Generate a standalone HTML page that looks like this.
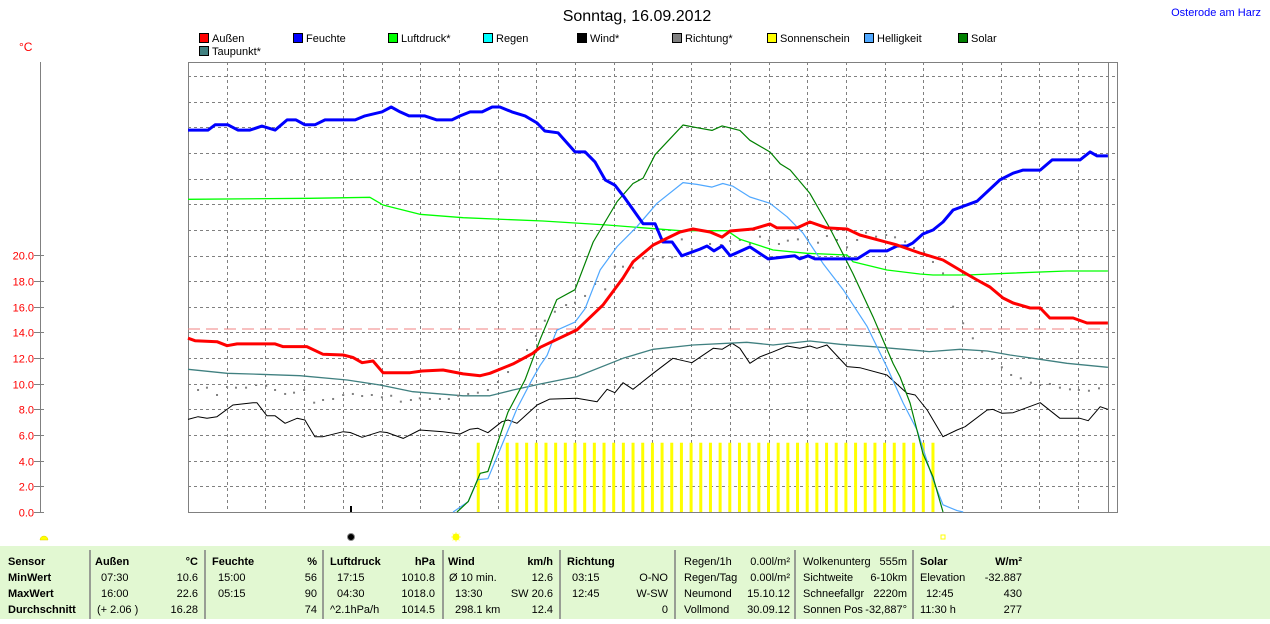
<!DOCTYPE html>
<html><head><meta charset="utf-8"><style>
body{margin:0;background:#fff;width:1270px;height:619px;overflow:hidden;font-family:"Liberation Sans",sans-serif}
svg text{font-family:"Liberation Sans",sans-serif}
</style></head><body>
<svg id="chart" width="1270" height="619" viewBox="0 0 1270 619" xmlns="http://www.w3.org/2000/svg">
<text x="637" y="21" font-size="16" text-anchor="middle" fill="#000">Sonntag, 16.09.2012</text>
<text x="1261" y="16" font-size="11" text-anchor="end" fill="#0000ff">Osterode am Harz</text>
<text x="19" y="51" font-size="12" fill="#ff0000">°C</text>
<rect x="0" y="546" width="1270" height="73" fill="#e2f8d2"/>
<g id="grid"></g>
<g id="series"></g>
<g id="legend"></g>
<g id="table" font-size="11"></g>
<g>
<path d="M40 540 A4 4 0 0 1 48 540 Z" fill="#ffff00" stroke="#e0d000" stroke-width="0.5"/>
<circle cx="351" cy="537" r="3.5" fill="#000" stroke="#888" stroke-width="1"/>
<g stroke="#ffff80" stroke-width="1"><line x1="451" y1="537" x2="461" y2="537"/><line x1="456" y1="532" x2="456" y2="542"/><line x1="452.5" y1="533.5" x2="459.5" y2="540.5"/><line x1="459.5" y1="533.5" x2="452.5" y2="540.5"/><circle cx="456" cy="537" r="3" fill="#ffff00" stroke="#ffff00"/></g>
<rect x="941" y="535" width="4" height="4" fill="none" stroke="#ffff00" stroke-width="1"/>
</g>
</svg>
<script>
// ---- data ----
const yTicks=[0,2,4,6,8,10,12,14,16,18,20];
const tempHours=[0,0.18,0.75,1.01,1.27,2.25,2.45,3.07,3.49,4.01,4.26,4.5,4.78,5.04,5.74,6.05,6.59,7.11,7.55,7.8,8.4,8.91,9.1,10.05,10.72,11.24,11.5,12.02,12.71,13.05,13.49,13.8,14.01,14.6,15.04,15.22,15.74,16.07,16.51,17.03,17.36,18.32,18.91,19.51,20.03,20.39,20.72,21.06,21.32,21.76,22.02,22.27,22.87,23.23,23.77];
const tempValues=[13.55,13.35,13.27,12.96,13.1,13.1,12.89,12.89,12.29,12.24,12.05,11.64,11.77,10.86,10.86,10.99,11.07,10.76,10.62,10.81,11.54,12.37,12.84,14.19,16.13,18.24,19.49,20.81,21.82,22.06,21.82,21.43,21.9,22.06,22.45,22.14,22.14,22.6,22.14,22.06,21.59,20.81,20.19,19.64,18.71,18.08,17.54,16.68,16.29,15.9,15.9,15.12,15.12,14.73,14.73];
const tempRef=14.26;
const humHours=[0,0.52,0.7,1.03,1.29,1.6,1.91,2.25,2.56,2.79,3.02,3.28,3.54,4.32,4.57,5.01,5.25,5.48,5.71,6.12,6.43,6.82,7.03,7.29,7.6,7.86,8.06,8.37,8.71,9.02,9.22,9.56,10.0,10.26,10.52,10.78,11.03,11.29,11.76,12.07,12.27,12.51,12.76,13.23,13.41,13.59,13.8,14.01,14.52,14.99,15.68,15.81,16.02,16.2,17.29,17.62,18.06,18.32,18.58,18.73,18.99,19.25,19.51,19.77,20.39,20.98,21.32,21.58,22.02,22.33,23.05,23.31,23.49,23.77];
const humValues=[84.8,84.8,86,86,84.8,84.8,85.7,84.8,87.1,87.1,86,86,87.1,87.1,88,88.9,90,88.9,88,88,87.1,87.1,88,88.9,88.9,90,90,88.9,88,86.4,84.6,84.2,79.9,79.9,77.6,73.6,72.4,69.5,63.7,63.7,59.6,59.6,56.5,58,58.7,57.6,58.7,56.5,58.5,55.8,56.5,55.8,56.5,55.8,55.8,57.6,57.6,58.7,58.7,59.4,61.4,62.3,64.1,66.8,68.8,73.6,75.1,75.8,75.8,78.1,78.1,79.9,79,79];
const presHours=[0,3.15,4.7,5.04,5.99,7.11,9.17,10.83,12.71,13.93,14.26,15.12,15.99,17.03,17.18,18.06,18.91,19.25,20.13,21.16,22.71,23.77];
const presValues=[1017.77,1017.87,1017.97,1017.2,1016.27,1015.93,1015.6,1015.2,1014.63,1014.63,1013.77,1012.7,1012.37,1012.2,1011.53,1010.7,1010.3,1010.2,1010.2,1010.37,1010.6,1010.6];
const dewHours=[0,1.01,1.86,2.89,4.11,4.96,5.81,7.11,7.8,8.4,9.1,10.05,11.24,12.02,13.05,14.44,15.12,16.07,16.85,17.7,18.91,19.15,19.95,20.65,21.24,21.84,22.71,23.77];
const dewValues=[11.12,10.81,10.73,10.62,10.29,9.9,9.38,9.06,9.06,9.51,9.98,10.55,11.98,12.68,13.02,13.23,13.02,13.33,13.07,12.88,12.57,12.5,12.68,12.55,12.24,11.98,11.59,11.28];
const windHours=[0,0.26,0.49,0.75,1.16,1.68,1.78,2.04,2.25,2.51,2.82,3.02,3.28,3.49,4.01,4.19,4.5,4.96,5.14,5.56,5.99,6.59,7.03,7.29,7.49,7.75,8.11,8.27,8.5,9.02,9.35,10.05,10.57,10.83,11.03,11.24,11.5,12.02,12.53,13.02,13.57,13.8,14.06,14.26,14.52,14.78,15.12,15.48,15.81,16.07,16.25,16.51,17.03,17.36,18.06,18.58,18.79,19.1,19.51,19.87,20.08,20.65,20.8,21.03,21.32,22.02,22.53,23.05,23.26,23.57,23.77];
const windValues=[7.22,7.43,7.3,7.43,8.34,8.52,8.52,7.5,7.5,6.91,7.3,7.17,5.87,5.87,6.26,6.2,5.82,6.26,6.2,5.74,6.39,6.26,6.08,6.45,6.52,6.18,7.04,7.17,6.91,8.34,8.8,8.86,8.6,9.56,9.3,10.08,9.56,10.81,11.98,11.64,12.76,12.68,13.15,12.76,11.59,12.1,12.49,12.94,12.76,12.94,12.76,13.02,11.33,11.25,10.68,9.25,9.12,7.95,5.87,6.39,6.65,7.95,8.0,7.69,7.74,8.52,7.3,7.3,7.12,8.21,8.0];
const dirHours=[0.26,0.49,0.75,1.01,1.24,1.5,1.76,2.02,2.25,2.51,2.74,3.0,3.26,3.49,3.75,4.01,4.26,4.5,4.75,5.01,5.25,5.5,5.76,5.99,6.25,6.51,6.74,6.98,7.24,7.49,7.75,8.01,8.27,8.5,8.76,8.99,9.22,9.48,9.77,10.0,10.26,10.52,10.78,11.03,11.24,11.5,11.76,12.02,12.27,12.51,12.76,13.02,13.26,13.49,13.77,14.01,14.26,14.52,14.78,15.01,15.27,15.5,15.76,16.02,16.28,16.51,16.77,17.03,17.29,17.52,17.78,18.04,18.27,18.53,18.76,19.02,19.25,19.51,19.77,20.03,20.28,20.52,20.78,21.03,21.27,21.52,21.78,22.02,22.27,22.53,22.79,23.02,23.28,23.54];
const dirValues=[9.51,9.69,9.12,9.74,9.69,9.69,9.9,9.84,9.51,9.2,9.3,9.51,8.52,8.73,8.81,9.12,9.2,9.04,9.12,8.94,9.06,8.6,8.73,8.86,8.81,8.81,8.81,9.06,9.2,9.3,9.51,10.13,10.91,11.69,12.63,13.72,14.91,15.61,16.13,16.31,16.84,17.77,17.36,19.12,19.12,19.04,19.77,19.7,19.85,19.85,21.25,20.48,20.55,20.89,20.81,21.12,21.2,20.89,21.46,21.15,20.89,21.15,21.25,21.2,20.99,21.51,21.2,20.63,21.2,21.77,21.46,21.59,21.41,21.07,20.58,20.26,19.49,18.6,16.0,14.71,13.54,12.49,11.93,11.28,10.68,10.42,10.08,9.9,9.98,9.69,9.56,9.51,9.45,9.64];
const solarHours=[6.95,7.24,7.55,7.75,8.27,8.71,9.1,9.53,10.0,10.47,11.09,11.5,11.76,12.07,12.79,13.15,13.54,13.8,14.26,14.52,15.04,15.3,15.56,16.07,16.59,17.18,17.7,18.22,18.4,18.66,18.99,19.25,19.51];
const solarValues=[0,11.5,43,45,111,147,192,236,247,300,345,365,371,397,430,427,424,429,424,413,400,387,380,354,315,265,217,165,150,121,65,39,0];
const brightHours=[6.85,7.24,7.49,7.75,8.06,8.5,8.89,9.1,9.28,9.53,10.0,10.26,10.65,11.09,11.6,12.12,12.79,13.15,13.54,13.82,14.08,14.52,15.04,15.48,15.89,16.41,16.93,17.55,18.06,18.48,18.84,19.25,19.51,19.87,20.03];
const brightValues=[0,11.5,36,37,69,115,147,163,174,202,211,226,269,295,317,343,366,364,361,365,362,350,343,328,310,276,247,206,161,121,91,36,8,1.5,0];
const sunHours=[7.5,8.25,8.5,8.75,9,9.25,9.5,9.75,10,10.25,10.5,10.75,11,11.25,11.5,11.75,12,12.25,12.5,12.75,13,13.25,13.5,13.75,14,14.25,14.5,14.75,15,15.25,15.5,15.75,16,16.25,16.5,16.75,17,17.25,17.5,17.75,18,18.25,18.5,18.75,19,19.25];
const sunLevel=5.4;

// ---- scales ----
const X0=188,X1=1117,Y0=512,YT=62;
const xH=h=>X0+h*38.7;
const yT=v=>Y0-v*12.83;
const yHum=h=>258-(h-56)*4.44;
const yPres=p=>197+(1018-p)*10;
const ySol=s=>Y0-s*0.9;
const snap=v=>Math.round(v)+0.5;
const NS='http://www.w3.org/2000/svg';
function mk(tag,attrs,parent){const e=document.createElementNS(NS,tag);for(const k in attrs)e.setAttribute(k,attrs[k]);parent.appendChild(e);return e;}

const grid=document.getElementById('grid');
for(let k=1;k<=17;k++){const y=snap(Y0-k*25.65);
 const l=mk('line',{x1:X0,x2:X1,y1:y,y2:y,stroke:'#808080','stroke-dasharray':'3,3'},grid);
 
 }
for(let k=1;k<24;k++){const x=snap(xH(k));
 const l=mk('line',{x1:x,x2:x,y1:YT,y2:Y0,stroke:'#808080','stroke-dasharray':'3,3'},grid);
 
 }
const fr=mk('rect',{x:X0+0.5,y:YT+0.5,width:X1-X0,height:Y0-YT,fill:'none',stroke:'#808080','stroke-width':1},grid);


const il=mk('line',{x1:1108.5,x2:1108.5,y1:YT,y2:Y0,stroke:'#808080','stroke-width':1},grid);


const ax=mk('line',{x1:40.5,x2:40.5,y1:YT,y2:Y0,stroke:'#808080','stroke-width':1},grid);


yTicks.forEach(v=>{const y=snap(yT(v));
 const t=mk('line',{x1:34,x2:44,y1:y,y2:y,stroke:'#808080'},grid);
 
 
 const tx=mk('text',{x:34,y:y+4,'font-size':11,fill:'#ff0000','text-anchor':'end'},grid);
 tx.textContent=v.toFixed(1);
 
 });
const tk=mk('line',{x1:351,x2:351,y1:506,y2:512,stroke:'#000','stroke-width':2},grid);



const S=document.getElementById('series');
sunHours.forEach(h=>{const r=mk('rect',{x:xH(h)-1.5,y:yT(sunLevel),width:3,height:Y0-yT(sunLevel),fill:'#ffff00'},S);
 
 });
function line(hs,vs,sc,color,w,name){const pts=hs.map((h,i)=>xH(h).toFixed(1)+','+sc(vs[i]).toFixed(1)).join(' ');
 const p=mk('polyline',{points:pts,fill:'none',stroke:color,'stroke-width':w,'stroke-linejoin':'round'},S);
 
 }
const ref=mk('line',{x1:X0,x2:1108,y1:yT(tempRef),y2:yT(tempRef),stroke:'#f08080','stroke-dasharray':'12,6'},S);


line(windHours,windValues,yT,'#000',1,'wind-line');
line(dewHours,dewValues,yT,'#408080',1.3,'dewpoint-line');
dirHours.forEach((h,i)=>{const r=mk('rect',{x:xH(h)-1,y:yT(dirValues[i])-1,width:2,height:2,fill:'#808080'},S);
 
 });
line(presHours,presValues,yPres,'#00ff00',1.3,'pressure-line');
line(brightHours,brightValues,ySol,'#50a8ff',1.2,'brightness-line');
line(solarHours,solarValues,ySol,'#008000',1.2,'solar-line');
line(humHours,humValues,yHum,'#0000ff',3,'humidity-line');
line(tempHours,tempValues,yT,'#ff0000',3,'temperature-line');

const L=document.getElementById('legend');
const legendItems=[['Außen','#ff0000',199,38],['Feuchte','#0000ff',293,38],['Luftdruck*','#00ff00',388,38],['Regen','#00ffff',483,38],['Wind*','#000000',577,38],['Richtung*','#808080',672,38],['Sonnenschein','#ffff00',767,38],['Helligkeit','#50a8ff',864,38],['Solar','#008000',958,38],['Taupunkt*','#408080',199,51]];
legendItems.forEach(it=>{const g=mk('g',{},L);
 
 
 mk('rect',{x:it[2]+0.5,y:it[3]-4.5,width:9,height:9,fill:it[1],stroke:'#000'},g);
 const t=mk('text',{x:it[2]+13,y:it[3]+4,'font-size':11,fill:'#000'},g);t.textContent=it[0];});

const T=document.getElementById('table');
[90,205,323,443,560,675,795,913].forEach(x=>{const l=mk('line',{x1:x,x2:x,y1:550,y2:619,stroke:'#808080','stroke-width':1.5},T);
 
 });
const rows=[561,577,593,609];
const cells=[
[8,0,'Sensor','s',1],[8,1,'MinWert','s',1],[8,2,'MaxWert','s',1],[8,3,'Durchschnitt','s',1],
[95,0,'Außen','s',1],[198,0,'°C','e',1],[101,1,'07:30','s'],[198,1,'10.6','e'],[101,2,'16:00','s'],[198,2,'22.6','e'],[97,3,'(+ 2.06 )','s'],[198,3,'16.28','e'],
[212,0,'Feuchte','s',1],[317,0,'%','e',1],[218,1,'15:00','s'],[317,1,'56','e'],[218,2,'05:15','s'],[317,2,'90','e'],[317,3,'74','e'],
[330,0,'Luftdruck','s',1],[435,0,'hPa','e',1],[337,1,'17:15','s'],[435,1,'1010.8','e'],[337,2,'04:30','s'],[435,2,'1018.0','e'],[330,3,'^2.1hPa/h','s'],[435,3,'1014.5','e'],
[448,0,'Wind','s',1],[553,0,'km/h','e',1],[449,1,'Ø 10 min.','s'],[553,1,'12.6','e'],[455,2,'13:30','s'],[553,2,'SW 20.6','e'],[455,3,'298.1 km','s'],[553,3,'12.4','e'],
[567,0,'Richtung','s',1],[572,1,'03:15','s'],[668,1,'O-NO','e'],[572,2,'12:45','s'],[668,2,'W-SW','e'],[668,3,'0','e'],
[684,0,'Regen/1h','s'],[790,0,'0.00l/m²','e'],[684,1,'Regen/Tag','s'],[790,1,'0.00l/m²','e'],[684,2,'Neumond','s'],[790,2,'15.10.12','e'],[684,3,'Vollmond','s'],[790,3,'30.09.12','e'],
[803,0,'Wolkenunterg','s'],[907,0,'555m','e'],[803,1,'Sichtweite','s'],[907,1,'6-10km','e'],[803,2,'Schneefallgr','s'],[907,2,'2220m','e'],[803,3,'Sonnen Pos','s'],[907,3,'-32,887°','e'],
[920,0,'Solar','s',1],[1022,0,'W/m²','e',1],[920,1,'Elevation','s'],[1022,1,'-32.887','e'],[926,2,'12:45','s'],[1022,2,'430','e'],[920,3,'11:30 h','s'],[1022,3,'277','e']];
cells.forEach(c=>{const t=mk('text',{x:c[0],y:rows[c[1]]+4,'text-anchor':c[3]==='e'?'end':'start','font-weight':c[4]?'bold':'normal',fill:'#000'},T);
 t.textContent=c[2];
 
 });
</script>
</body></html>
